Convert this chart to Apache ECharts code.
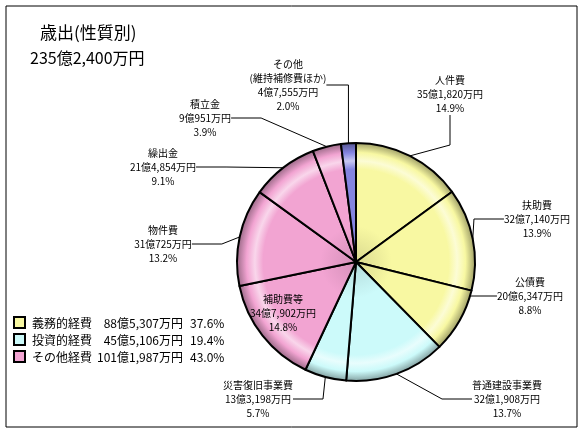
<!DOCTYPE html>
<html>
<head>
<meta charset="utf-8">
<script src="https://cdn.jsdelivr.net/npm/echarts@6/dist/echarts.min.js"></script>
<style>
html, body { margin: 0; padding: 0; background: #fff; }
#main { width: 588px; height: 433px; }
</style>
</head>
<body>
<div id="main"></div>
<script>
// 歳出（性質別） 単位：万円
const names = ['人件費', '扶助費', '公債費', '普通建設事業費', '災害復旧事業費', '補助費等', '物件費', '繰出金', '積立金', 'その他\n(維持補修費ほか)'];
const values = [351820, 327140, 206347, 321908, 133198, 347902, 310725, 214854, 90951, 47555];
const percents = [14.9, 13.9, 8.8, 13.7, 5.7, 14.8, 13.2, 9.1, 3.9, 2.0];
const groupOf = [0, 0, 0, 1, 1, 2, 2, 2, 2, 3];

const groupNames = ['義務的経費', '投資的経費', 'その他経費'];
const groupAmounts = [885307, 455106, 1011987];
const groupPercents = [37.6, 19.4, 43.0];
const groupColors = ['#F8F8A2', '#CCFAFA', '#F2A4D2', '#8484E0'];

const totalText = '235億2,400万円';

// ラベル位置 (中心座標)
const labelPos = [[450, 94], [537, 219], [530, 296], [507, 399], [258, 399], [283, 313], [163, 244], [163, 167], [205, 118], [288, 85]];

function fmtYen(v) {
  const oku = Math.floor(v / 10000);
  const man = v % 10000;
  const manStr = man >= 1000 ? Math.floor(man / 1000) + ',' + String(man % 1000).padStart(3, '0') : String(man);
  return oku + '億' + manStr + '万円';
}

function shade(hex, f) {
  const n = parseInt(hex.slice(1), 16);
  let r = (n >> 16) & 255, g = (n >> 8) & 255, b = n & 255;
  const m = c => Math.max(0, Math.min(255, Math.round(f >= 0 ? c + (255 - c) * f : c * (1 + f))));
  return 'rgb(' + m(r) + ',' + m(g) + ',' + m(b) + ')';
}

const cx = 356, cy = 262, R = 119;

function bevel(col) {
  return {
    type: 'radial', x: cx, y: cy, r: R, global: true,
    colorStops: [
      { offset: 0, color: shade(col, -0.12) },
      { offset: 0.3, color: col },
      { offset: 0.78, color: col },
      { offset: 0.85, color: shade(col, 0.55) },
      { offset: 0.92, color: col },
      { offset: 1, color: shade(col, -0.35) }
    ]
  };
}

const pieData = names.map((n, i) => {
  const item = {
    name: n,
    value: values[i],
    itemStyle: { color: bevel(groupColors[groupOf[i]]) }
  };
  if (i === 5) {
    item.labelLine = { show: false };
  }
  return item;
});

const chart = echarts.init(document.getElementById('main'));

const legendFont = '12px "Noto Sans CJK JP"';
const legendGraphics = [];
groupNames.forEach((g, i) => {
  const y = 323 + i * 17;
  legendGraphics.push({
    type: 'rect', shape: { x: 14, y: y - 6, width: 11, height: 11 },
    style: { fill: groupColors[i], stroke: '#000', lineWidth: 2 }
  });
  legendGraphics.push({
    type: 'text', x: 32, y: y,
    style: { text: g, font: legendFont, fill: '#000', verticalAlign: 'middle', align: 'left' }
  });
  legendGraphics.push({
    type: 'text', x: 183, y: y,
    style: { text: fmtYen(groupAmounts[i]), font: legendFont, fill: '#000', verticalAlign: 'middle', align: 'right' }
  });
  legendGraphics.push({
    type: 'text', x: 190, y: y,
    style: { text: groupPercents[i].toFixed(1) + '%', font: legendFont, fill: '#000', verticalAlign: 'middle', align: 'left' }
  });
});

chart.setOption({
  backgroundColor: '#fff',
  animation: false,
  graphic: [
    {
      type: 'rect', shape: { x: 6, y: 6, width: 571, height: 421 },
      style: { fill: 'none', stroke: '#000', lineWidth: 1 }, z: -1
    },
    {
      type: 'text', x: 40, y: 33,
      style: { text: '歳出(性質別)', font: '17px "Noto Sans CJK JP"', fill: '#000', verticalAlign: 'middle' }
    },
    {
      type: 'text', x: 30, y: 58,
      style: { text: totalText, font: '16px "Noto Sans CJK JP"', fill: '#000', verticalAlign: 'middle' }
    }
  ].concat(legendGraphics),
  series: [{
    type: 'pie',
    center: [cx, cy],
    radius: [0, R],
    startAngle: 90,
    clockwise: true,
    data: pieData,
    itemStyle: { borderColor: '#000', borderWidth: 2 },
    label: {
      show: true,
      color: '#000',
      fontSize: 10,
      lineHeight: 14,
      fontFamily: 'Noto Sans CJK JP',
      align: 'center',
      overflow: 'none',
      formatter: function (p) {
        return p.name + '\n' + fmtYen(p.value) + '\n' + percents[p.dataIndex].toFixed(1) + '%';
      }
    },
    labelLine: { show: true, lineStyle: { color: '#000', width: 1 } },
    labelLayout: function (p) {
      const pos = labelPos[p.dataIndex];
      return { x: pos[0], y: pos[1], align: 'center', verticalAlign: 'middle' };
    },
    emphasis: { disabled: true }
  }]
});
</script>
</body>
</html>
